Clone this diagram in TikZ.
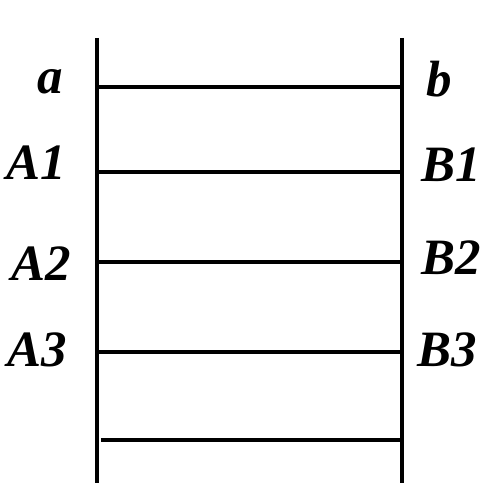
\documentclass[tikz,border=0pt]{standalone}
\usepackage{fontspec}
\setmainfont{Liberation Serif}
\usetikzlibrary{positioning}

\begin{document}
\begin{tikzpicture}[
  x=0.02cm, y=-0.02cm,
  rail/.style={line width=2.2pt, line cap=butt},
  rung/.style={line width=2pt},
  lbl/.style={font=\fontsize{29}{33}\selectfont\bfseries\itshape, inner sep=0pt},
]
\useasboundingbox (0,0) rectangle (485,483);

% the two rails
\coordinate (ltop) at (97,38);
\coordinate (lbot) at (97,483);
\coordinate (rtop) at (402,38);
\coordinate (rbot) at (402,483);
\draw[rail] (ltop) -- (lbot);
\draw[rail] (rtop) -- (rbot);

% rungs
\foreach \i/\y in {0/87, 1/172, 2/262, 3/352} {
  \coordinate (l\i) at (97,\y);
  \coordinate (r\i) at (402,\y);
  \draw[rung] (l\i) -- (r\i);
}
\coordinate (l4) at (101,440);
\coordinate (r4) at (402,440);
\draw[rung] (l4) -- (r4);

% labels
\node[lbl, anchor=base east] (a)  at (63,94)  {a};
\node[lbl, anchor=base west] (b)  at (426,97) {b};
\node[lbl, anchor=base east] (A1) at (66,180) {A1};
\node[lbl, anchor=base west] (B1) at (421,182) {B1};
\node[lbl, anchor=base east] (A2) at (71,281) {A2};
\node[lbl, anchor=base west] (B2) at (421,275) {B2};
\node[lbl, anchor=base east] (A3) at (67,367) {A3};
\node[lbl, anchor=base west] (B3) at (417,367) {B3};

\end{tikzpicture}
\end{document}
